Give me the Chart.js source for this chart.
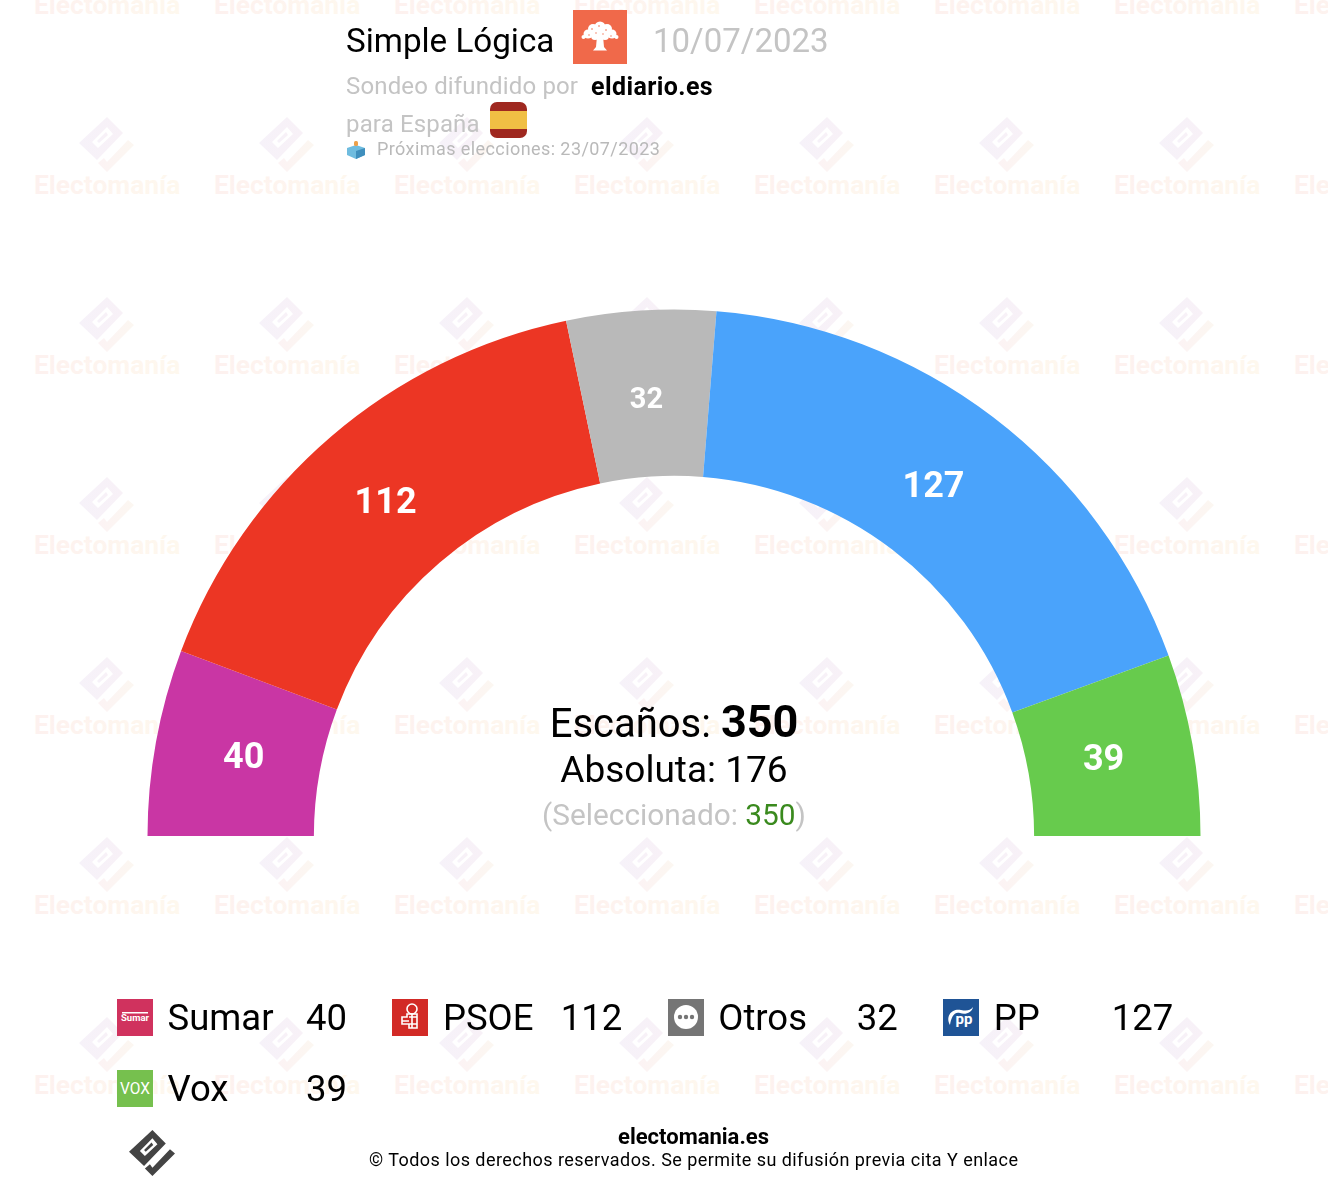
<!DOCTYPE html>
<html lang="es">
<head>
<meta charset="utf-8">
<title>Simple Lógica 10/07/2023</title>
<script src="https://cdn.jsdelivr.net/npm/chart.js@4/dist/chart.umd.min.js"></script>
<style>
  html, body { margin: 0; padding: 0; background: #fff; }
  body { width: 1328px; height: 1184px; position: relative; overflow: hidden; font-family: Roboto, sans-serif; color: #000; }
  #wm, #main-chart, .icon { position: absolute; }
  #wm { left: 0; top: 0; }
  #main-chart { left: 0; top: 0; }
  .t { position: absolute; line-height: 1; white-space: nowrap; }
  .grey { color: #c4c4c4; }
  .center { left: 374px; width: 600px; text-align: center; }
  .num { text-align: right; width: 80px; }
</style>
</head>
<body>
<svg id="wm" width="1328" height="1184" xmlns="http://www.w3.org/2000/svg">
  <defs>
    <linearGradient id="wmText"><stop offset="0" stop-color="#fdf1ef"/><stop offset="1" stop-color="#fef8ee"/></linearGradient>
    <linearGradient id="wmDiamond"><stop offset="0" stop-color="#f6f2f9"/><stop offset="1" stop-color="#f8f1f7"/></linearGradient>
    <linearGradient id="wmCheck"><stop offset="0" stop-color="#fcf3f4"/><stop offset="1" stop-color="#fcf7f1"/></linearGradient>
    <path id="logoA" fill-rule="evenodd" d="M107 117L123 133L97 160L79 143ZM107 127L92 142L98 148L113 134Z"/>
    <path id="logoB" d="M128 140L134 145L107 172L98 163L104 158L107 162Z"/>
    <path id="logoC" d="M106 132L97 141L99 143L108 135Z"/>
  </defs>
  <g id="wmMarks"></g>
</svg>

<canvas id="main-chart" width="1328" height="1184"></canvas>

<div class="t" style="left:346px;top:24px;font-size:33.2px">Simple Lógica</div>
<svg class="icon" style="left:573px;top:10px" width="54" height="54" viewBox="0 0 54 54">
  <rect width="54" height="54" fill="#f0694a"/>
  <g fill="#fff">
    <circle cx="27" cy="17" r="5.5"/><circle cx="20" cy="19" r="5"/><circle cx="34" cy="19" r="5"/><circle cx="15" cy="24" r="4.5"/><circle cx="39" cy="24" r="4.5"/>
    <circle cx="10.5" cy="27" r="2"/><circle cx="43.5" cy="27" r="2"/><circle cx="22" cy="26" r="4"/><circle cx="32" cy="26" r="4"/><circle cx="27" cy="23" r="5"/>
    <path d="M24 26h6l1 11 3 3.5H20l3-3.5z"/>
  </g>
  <g fill="#f0694a">
    <circle cx="19" cy="19" r=".8"/><circle cx="26" cy="16" r=".8"/><circle cx="33" cy="20" r=".8"/><circle cx="30" cy="24" r=".7"/><circle cx="16" cy="25" r=".7"/><circle cx="38" cy="26" r=".7"/><circle cx="23" cy="23" r=".7"/>
  </g>
</svg>
<div class="t grey" style="left:653px;top:24px;font-size:33px">10/07/2023</div>
<div class="t grey" style="left:346px;top:74px;font-size:24px;letter-spacing:.15px">Sondeo difundido por</div>
<div class="t" style="left:591px;top:74px;font-size:25px;font-weight:700;letter-spacing:.4px">eldiario.es</div>
<div class="t grey" style="left:346px;top:112px;font-size:24px;letter-spacing:.15px">para España</div>
<svg class="icon" style="left:490px;top:102px" width="37" height="36" viewBox="0 0 37 36">
  <rect width="37" height="36" rx="7" fill="#9f2820"/>
  <rect y="9" width="37" height="18" fill="#f0bf44"/>
</svg>
<svg class="icon" style="left:347px;top:141px" width="18" height="18" viewBox="0 0 18 18">
  <path d="M0 7l9-3 9 3v7l-9 4-9-4z" fill="#6fbcdf"/>
  <path d="M9 10v8l9-4V7z" fill="#3f8fbd"/>
  <rect x="7" y="0" width="4" height="5" rx="1.5" fill="#eda04a"/>
</svg>
<div class="t" style="left:377px;top:140px;font-size:18px;letter-spacing:.42px;color:#b9b9b9">Próximas elecciones: 23/07/2023</div>

<div class="t center" style="top:699px;font-size:40px">Escaños: <b id="totalSeats" style="font-size:45px"></b></div>
<div class="t center" style="top:751px;font-size:37px">Absoluta: <span id="majority"></span></div>
<div class="t center grey" style="top:800px;font-size:29.8px">(Seleccionado: <span id="selected" style="color:#3a8a1e"></span>)</div>

<div id="legend"></div>

<div class="t" style="left:394px;width:600px;text-align:center;top:1126px;font-size:22px;font-weight:700;margin-left:-.5px">electomania.es</div>
<div class="t" style="left:369px;top:1151px;font-size:18px;letter-spacing:.45px">© Todos los derechos reservados. Se permite su difusión previa cita Y enlace</div>
<svg class="icon" style="left:129px;top:1130px" width="46" height="46" viewBox="79 117 55 55" fill="#444">
  <use href="#logoA"/><use href="#logoB"/><use href="#logoC"/>
</svg>

<script>
// Datos del sondeo
const categories = ['Sumar', 'PSOE', 'Otros', 'PP', 'Vox'];
const seats = [40, 112, 32, 127, 39];
const arcColors = ['#c936a4', '#ec3624', '#b9b9b9', '#4aa3fb', '#67cb4d'];
const labelNudge = [[1, 0], [-3, 0], [0, 1.5], [-6, 0], [-2, 0]];
const totalSeats = 350;
const majority = 176;
const selected = 350;

// Iconos de la leyenda
const icons = {
  Sumar: '<rect width="36" height="37" fill="#d0325e"/><rect x="5" y="13" width="26" height="1.5" fill="#fff"/><text x="18" y="22" font-size="9.5" font-weight="700" fill="#fff" text-anchor="middle">Sumar</text>',
  PSOE: '<rect width="36" height="37" fill="#d22a26"/><g fill="none" stroke="#fff" stroke-width="1.6"><circle cx="20" cy="10" r="5"/><path d="M15 15h10v14h-8v-4h-7v-7h5zM10 22h7M17 18h8M17 25h8M20 15v14"/></g>',
  Otros: '<rect width="36" height="37" fill="#757575"/><rect x="6" y="6" width="24" height="24" rx="12" fill="#fff"/><circle cx="12" cy="18" r="2.2" fill="#757575"/><circle cx="18" cy="18" r="2.2" fill="#757575"/><circle cx="24" cy="18" r="2.2" fill="#757575"/>',
  PP: '<rect width="36" height="37" fill="#1f5496"/><path d="M7 26C2 17 9 9 18 11c5 1 9 1 12-3-1 6-8 8-13 6-6-2-9 5-10 12z" fill="#fff"/><text x="21" y="25" font-size="15" font-weight="700" fill="#fff" text-anchor="middle">pp</text>',
  Vox: '<rect width="36" height="37" fill="#76c04e"/><text x="18" y="24" font-size="16" fill="#fff" text-anchor="middle" textLength="30" lengthAdjust="spacingAndGlyphs">VOX</text>'
};

document.getElementById('totalSeats').textContent = totalSeats;
document.getElementById('majority').textContent = majority;
document.getElementById('selected').textContent = selected;

// Marca de agua: rejilla cada 180px
const marks = document.getElementById('wmMarks');
let wmHtml = '';
for (let row = -1; row < 6; row++) {
  for (let col = 0; col < 8; col++) {
    const dx = col * 180, dy = row * 180;
    wmHtml += `<g transform="translate(${dx} ${dy})">
      <use href="#logoA" fill="url(#wmDiamond)"/><use href="#logoC" fill="url(#wmDiamond)"/><use href="#logoB" fill="url(#wmCheck)"/>
      <text x="34" y="194" font-family="Roboto" font-weight="700" font-size="26.4" fill="url(#wmText)">Electomanía</text></g>`;
  }
}
marks.innerHTML = wmHtml;

// Leyenda: cuatro columnas
const legend = document.getElementById('legend');
categories.forEach((name, i) => {
  const x = 117 + (i % 4) * 275.4;
  const row = Math.floor(i / 4);
  const y = 999 + row * 71;
  legend.insertAdjacentHTML('beforeend', `
    <svg class="icon" style="left:${x}px;top:${y}px" width="36" height="37" viewBox="0 0 36 37">${icons[name]}</svg>
    <div class="t" style="left:${x + 50.5}px;top:${y + 1}px;font-size:36.5px">${name}</div>
    <div class="t num" style="left:${x + 150}px;top:${y + 1}px;font-size:36.5px">${seats[i]}</div>`);
});

// Etiquetas blancas sobre cada sector
const arcLabels = {
  id: 'arcLabels',
  afterDatasetsDraw(chart) {
    const ctx = chart.ctx;
    ctx.save();
    ctx.fillStyle = '#fff';
    ctx.textAlign = 'center';
    ctx.textBaseline = 'middle';
    chart.getDatasetMeta(0).data.forEach((arc, i) => {
      const p = arc.getProps(['x', 'y', 'startAngle', 'endAngle', 'innerRadius', 'outerRadius']);
      const mid = (p.startAngle + p.endAngle) / 2;
      const r = (p.innerRadius + p.outerRadius) / 2 - 5;
      ctx.font = `700 ${seats[i] < 35 ? 29 : 36}px Roboto`;
      ctx.fillText(seats[i], p.x + Math.cos(mid) * r + labelNudge[i][0], p.y + Math.sin(mid) * r + 1 + labelNudge[i][1]);
    });
    ctx.restore();
  }
};

new Chart(document.getElementById('main-chart').getContext('2d'), {
  type: 'doughnut',
  data: {
    labels: categories,
    datasets: [{ data: seats, backgroundColor: arcColors, borderWidth: 0 }]
  },
  options: {
    responsive: false,
    animation: false,
    rotation: -90,
    circumference: 180,
    cutout: '68.4%',
    layout: { padding: { left: 147.5, right: 127.5, top: 309.5, bottom: 348 } },
    plugins: { legend: { display: false }, tooltip: { enabled: false } }
  },
  plugins: [arcLabels]
});
</script>
</body>
</html>
